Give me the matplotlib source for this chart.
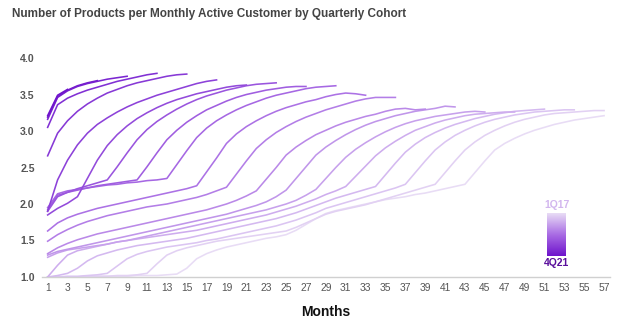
import numpy as np
import matplotlib.pyplot as plt
from matplotlib.colors import LinearSegmentedColormap

plt.rcParams['font.family'] = ['Liberation Sans', 'DejaVu Sans']

# products per monthly active customer, one list per quarterly cohort (month 1, 2, ...)
q1_17 = [1.00, 1.00, 1.00, 1.00, 1.00, 1.01, 1.01, 1.01, 1.01, 1.02, 1.02, 1.02, 1.03, 1.04, 1.12,
         1.25, 1.32, 1.37, 1.41, 1.44, 1.47, 1.50, 1.53, 1.55, 1.58, 1.64, 1.72, 1.80, 1.87, 1.91,
         1.94, 1.97, 2.00, 2.03, 2.06, 2.08, 2.10, 2.13, 2.15, 2.18, 2.21, 2.24, 2.27, 2.43, 2.59,
         2.74, 2.83, 2.90, 2.96, 3.01, 3.05, 3.09, 3.12, 3.15, 3.17, 3.19, 3.21]
q2_17 = [1.00, 1.00, 1.00, 1.00, 1.01, 1.01, 1.01, 1.02, 1.02, 1.03, 1.05, 1.18, 1.30, 1.36, 1.40,
         1.43, 1.46, 1.49, 1.51, 1.53, 1.55, 1.57, 1.59, 1.61, 1.63, 1.68, 1.74, 1.80, 1.86, 1.90,
         1.93, 1.96, 1.99, 2.03, 2.07, 2.11, 2.15, 2.19, 2.23, 2.27, 2.43, 2.59, 2.74, 2.85, 2.94,
         3.01, 3.07, 3.12, 3.16, 3.19, 3.22, 3.24, 3.25, 3.26, 3.27, 3.28, 3.28]
q3_17 = [1.00, 1.00, 1.01, 1.01, 1.02, 1.03, 1.05, 1.15, 1.25, 1.31, 1.35, 1.38, 1.41, 1.43, 1.45,
         1.47, 1.50, 1.52, 1.55, 1.58, 1.61, 1.64, 1.67, 1.70, 1.74, 1.78, 1.83, 1.88, 1.94, 1.98,
         2.02, 2.06, 2.10, 2.14, 2.18, 2.22, 2.27, 2.43, 2.59, 2.74, 2.85, 2.94, 3.01, 3.07, 3.12,
         3.16, 3.19, 3.22, 3.24, 3.26, 3.27, 3.28, 3.29, 3.29]
q4_17 = [1.00, 1.02, 1.05, 1.12, 1.22, 1.29, 1.33, 1.37, 1.40, 1.43, 1.45, 1.47, 1.49, 1.51, 1.53,
         1.56, 1.59, 1.62, 1.65, 1.68, 1.71, 1.74, 1.77, 1.80, 1.84, 1.88, 1.93, 1.98, 2.03, 2.08,
         2.12, 2.16, 2.20, 2.24, 2.40, 2.56, 2.71, 2.82, 2.91, 2.98, 3.04, 3.09, 3.13, 3.17, 3.20,
         3.23, 3.25, 3.27, 3.28, 3.29, 3.30]
q1_18 = [1.00, 1.16, 1.30, 1.36, 1.39, 1.42, 1.45, 1.48, 1.50, 1.52, 1.54, 1.56, 1.58, 1.60, 1.62,
         1.64, 1.67, 1.70, 1.73, 1.76, 1.79, 1.82, 1.85, 1.89, 1.93, 1.97, 2.02, 2.07, 2.13, 2.18,
         2.24, 2.38, 2.52, 2.66, 2.77, 2.86, 2.94, 3.01, 3.06, 3.11, 3.15, 3.18, 3.21, 3.23, 3.24,
         3.25, 3.26, 3.26]
q2_18 = [1.27, 1.33, 1.37, 1.39, 1.41, 1.43, 1.45, 1.48, 1.50, 1.53, 1.56, 1.59, 1.62, 1.65, 1.68,
         1.71, 1.74, 1.77, 1.80, 1.83, 1.86, 1.89, 1.92, 1.96, 2.00, 2.05, 2.12, 2.20, 2.35, 2.50,
         2.64, 2.75, 2.84, 2.92, 2.99, 3.05, 3.10, 3.14, 3.17, 3.20, 3.22, 3.24, 3.26, 3.27, 3.26]
q3_18 = [1.30, 1.35, 1.38, 1.41, 1.44, 1.47, 1.50, 1.53, 1.56, 1.59, 1.62, 1.65, 1.68, 1.71, 1.74,
         1.77, 1.80, 1.83, 1.86, 1.90, 1.94, 1.98, 2.03, 2.10, 2.19, 2.35, 2.51, 2.67, 2.78, 2.87,
         2.95, 3.02, 3.08, 3.13, 3.17, 3.21, 3.24, 3.27, 3.29, 3.31, 3.34, 3.33]
q4_18 = [1.32, 1.40, 1.46, 1.51, 1.55, 1.59, 1.62, 1.65, 1.68, 1.71, 1.74, 1.77, 1.80, 1.83, 1.86,
         1.89, 1.92, 1.96, 2.00, 2.05, 2.11, 2.18, 2.34, 2.50, 2.67, 2.78, 2.87, 2.95, 3.01, 3.07,
         3.12, 3.16, 3.20, 3.23, 3.27, 3.30, 3.31, 3.29, 3.30]
q1_19 = [1.49, 1.58, 1.65, 1.71, 1.76, 1.80, 1.84, 1.87, 1.90, 1.93, 1.96, 1.98, 2.00, 2.03, 2.06,
         2.09, 2.13, 2.18, 2.23, 2.41, 2.59, 2.76, 2.88, 2.98, 3.06, 3.13, 3.19, 3.24, 3.29, 3.33,
         3.37, 3.41, 3.44, 3.46, 3.46, 3.46]
q2_19 = [1.63, 1.74, 1.81, 1.86, 1.90, 1.94, 1.97, 2.00, 2.03, 2.06, 2.09, 2.12, 2.15, 2.18, 2.21,
         2.25, 2.44, 2.63, 2.83, 2.96, 3.06, 3.14, 3.21, 3.27, 3.32, 3.36, 3.40, 3.43, 3.47, 3.50,
         3.52, 3.51, 3.49]
q3_19 = [1.95, 2.14, 2.18, 2.20, 2.22, 2.24, 2.26, 2.27, 2.29, 2.30, 2.32, 2.33, 2.35, 2.54, 2.73,
         2.91, 3.04, 3.14, 3.22, 3.29, 3.35, 3.40, 3.45, 3.49, 3.52, 3.55, 3.58, 3.60, 3.61, 3.62]
q4_19 = [1.92, 2.12, 2.16, 2.19, 2.22, 2.25, 2.27, 2.29, 2.31, 2.33, 2.51, 2.70, 2.88, 3.01, 3.12,
         3.21, 3.29, 3.35, 3.41, 3.46, 3.50, 3.53, 3.56, 3.58, 3.60, 3.61, 3.61]
q1_20 = [1.90, 2.10, 2.16, 2.21, 2.25, 2.29, 2.33, 2.51, 2.70, 2.88, 3.02, 3.13, 3.22, 3.30, 3.37,
         3.43, 3.48, 3.52, 3.56, 3.59, 3.62, 3.64, 3.65, 3.66]
q2_20 = [1.85, 1.94, 2.01, 2.10, 2.35, 2.60, 2.80, 2.95, 3.07, 3.17, 3.25, 3.32, 3.38, 3.43, 3.47,
         3.51, 3.54, 3.57, 3.60, 3.62, 3.63]
q3_20 = [1.90, 2.33, 2.60, 2.81, 2.97, 3.09, 3.18, 3.26, 3.33, 3.39, 3.44, 3.49, 3.53, 3.57, 3.61,
         3.65, 3.68, 3.70]
q4_20 = [2.66, 2.97, 3.14, 3.27, 3.37, 3.45, 3.52, 3.57, 3.62, 3.66, 3.69, 3.72, 3.75, 3.77, 3.78]
q1_21 = [3.05, 3.36, 3.45, 3.51, 3.56, 3.60, 3.64, 3.68, 3.71, 3.74, 3.77, 3.79]
q2_21 = [3.16, 3.46, 3.55, 3.61, 3.65, 3.68, 3.71, 3.73, 3.75]
q3_21 = [3.19, 3.47, 3.56, 3.62, 3.66, 3.69]
q4_21 = [3.21, 3.49, 3.57]

cohort_names = ["1Q17", "2Q17", "3Q17", "4Q17", "1Q18", "2Q18", "3Q18", "4Q18", "1Q19", "2Q19",
                "3Q19", "4Q19", "1Q20", "2Q20", "3Q20", "4Q20", "1Q21", "2Q21", "3Q21", "4Q21"]
cohorts = [q1_17, q2_17, q3_17, q4_17, q1_18, q2_18, q3_18, q4_18, q1_19, q2_19,
           q3_19, q4_19, q1_20, q2_20, q3_20, q4_20, q1_21, q2_21, q3_21, q4_21]

cmap = LinearSegmentedColormap.from_list("cohort", ["#e8dcf5", "#a96ce4", "#6f14cc"])
colors = cmap(np.linspace(0, 1, len(cohorts)))

fig = plt.figure(figsize=(6.24, 3.25), dpi=100)
ax = fig.add_axes([0.0668, 0.1477, 0.9108, 0.6738])

for name, vals, col in zip(cohort_names, cohorts, colors):
    months = np.arange(1, len(vals) + 1)
    ax.plot(months, vals, color=col, lw=1.15, label=name, solid_joinstyle="round")

ax.set_xlim(0.4, 57.6)
ax.set_ylim(1.0, 4.0)
ax.set_xticks(np.arange(1, 58, 2))
ax.set_yticks([1.0, 1.5, 2.0, 2.5, 3.0, 3.5, 4.0])
ax.set_yticklabels(["1.0", "1.5", "2.0", "2.5", "3.0", "3.5", "4.0"])
ax.tick_params(axis="x", length=0, labelsize=7.4, colors="#555555", pad=4)
ax.tick_params(axis="y", length=0, labelsize=7.6, labelcolor="#555555", pad=5)
for lab in ax.get_yticklabels():
    lab.set_fontweight("bold")
for side in ["top", "right", "left"]:
    ax.spines[side].set_visible(False)
ax.spines["bottom"].set_color("#d0d0d0")
ax.spines["bottom"].set_linewidth(1.0)
ax.set_xlabel("Months", fontsize=10, fontweight="bold", color="#111111", labelpad=9)

fig.text(0.019, 0.958, "Number of Products per Monthly Active Customer by Quarterly Cohort",
         fontsize=8.5, fontweight="bold", color="#444444", va="center", ha="left")

# gradient legend: light = oldest cohort, dark = newest
lax = fig.add_axes([0.8766, 0.2123, 0.0304, 0.1323])
grad = np.linspace(0, 1, 100).reshape(-1, 1)
lax.imshow(grad, aspect="auto", cmap=cmap, extent=[0, 1, 1, 0])
lax.axis("off")
fig.text(0.892, 0.369, cohort_names[0], fontsize=7.5, fontweight="bold", color="#d2b6ee",
         ha="center", va="center")
fig.text(0.892, 0.192, cohort_names[-1], fontsize=7.5, fontweight="bold", color="#5a0f9c",
         ha="center", va="center")

plt.savefig("out.png", dpi=100)
